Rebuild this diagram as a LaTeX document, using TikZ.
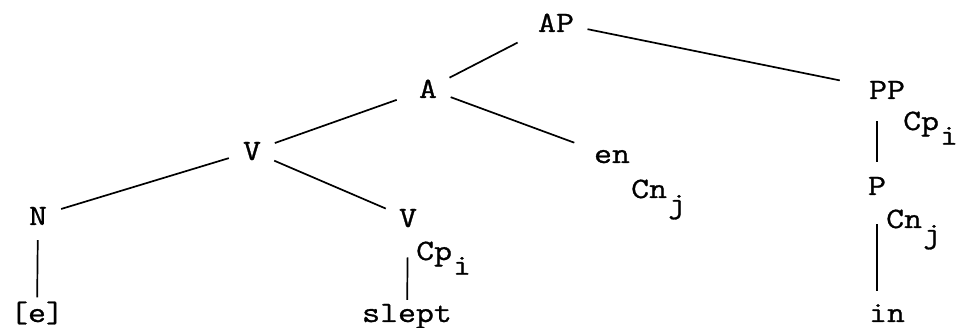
\documentclass[tikz,border=0pt]{standalone}
\usepackage{fontspec}
\newfontfamily\treefont[FakeStretch=1.18,FakeBold=1]{Latin Modern Mono}
\usetikzlibrary{positioning}
\newcommand{\lowidx}[1]{\kern1pt\raisebox{-0.5em}{#1}}

\begin{document}
\begin{tikzpicture}[
  x=1pt, y=-1pt,
  cat/.style={circle, inner sep=0pt, minimum size=48pt, anchor=base, font=\treefont\fontsize{29.5}{36}\selectfont},
  leaf/.style={inner sep=4pt, anchor=base, font=\treefont\fontsize{29.5}{36}\selectfont},
  feat/.style={inner sep=0pt, anchor=base west, font=\treefont\fontsize{29.5}{36}\selectfont},
  edge/.style={line width=1.7pt},
]
\useasboundingbox (0,0) rectangle (958,328);

% Categories
\node[cat] (ap) at (556,32) {AP};
\node[cat] (a) at (428,98) {A};
\node[cat] (vtop) at (252,160) {V};
\node[cat] (n) at (38,225) {N};
\node[cat] (vlow) at (408,227) {V};
\node[cat] (en) at (612,163) {en};
\node[cat] (pp) at (887,99) {PP};
\node[cat] (p) at (877,195) {P};

% Leaves
\node[leaf] (e) at (37,322) {[e]};
\node[leaf] (slept) at (407,322) {slept};
\node[leaf] (in) at (887,322) {in};

% Features
\node[feat] (cpv) at (416,260) {Cp\lowidx{i}};
\node[feat] (cnen) at (631,198) {Cn\lowidx{j}};
\node[feat] (cppp) at (903,130) {Cp\lowidx{i}};
\node[feat] (cnp) at (886,228) {Cn\lowidx{j}};

% Branches
\draw[edge, shorten <=19pt] (ap) -- (a);
\draw[edge, shorten <=8pt, shorten >=24pt] (ap) -- (pp);
\draw[edge, shorten <=9pt] (a) -- (vtop);
\draw[edge, shorten >=16pt] (a) -- (en);
\draw[edge] (vtop) -- (n);
\draw[edge] (vtop) -- (vlow);
\draw[edge] (n) -- (e);
\draw[edge, shorten <=15pt] (vlow) -- (slept);
\draw[edge, shorten <=7pt] (pp.south -| p) -- (p);
\draw[edge, shorten <=14pt, shorten >=9pt] (p) -- (p |- in.north);
\end{tikzpicture}
\end{document}
